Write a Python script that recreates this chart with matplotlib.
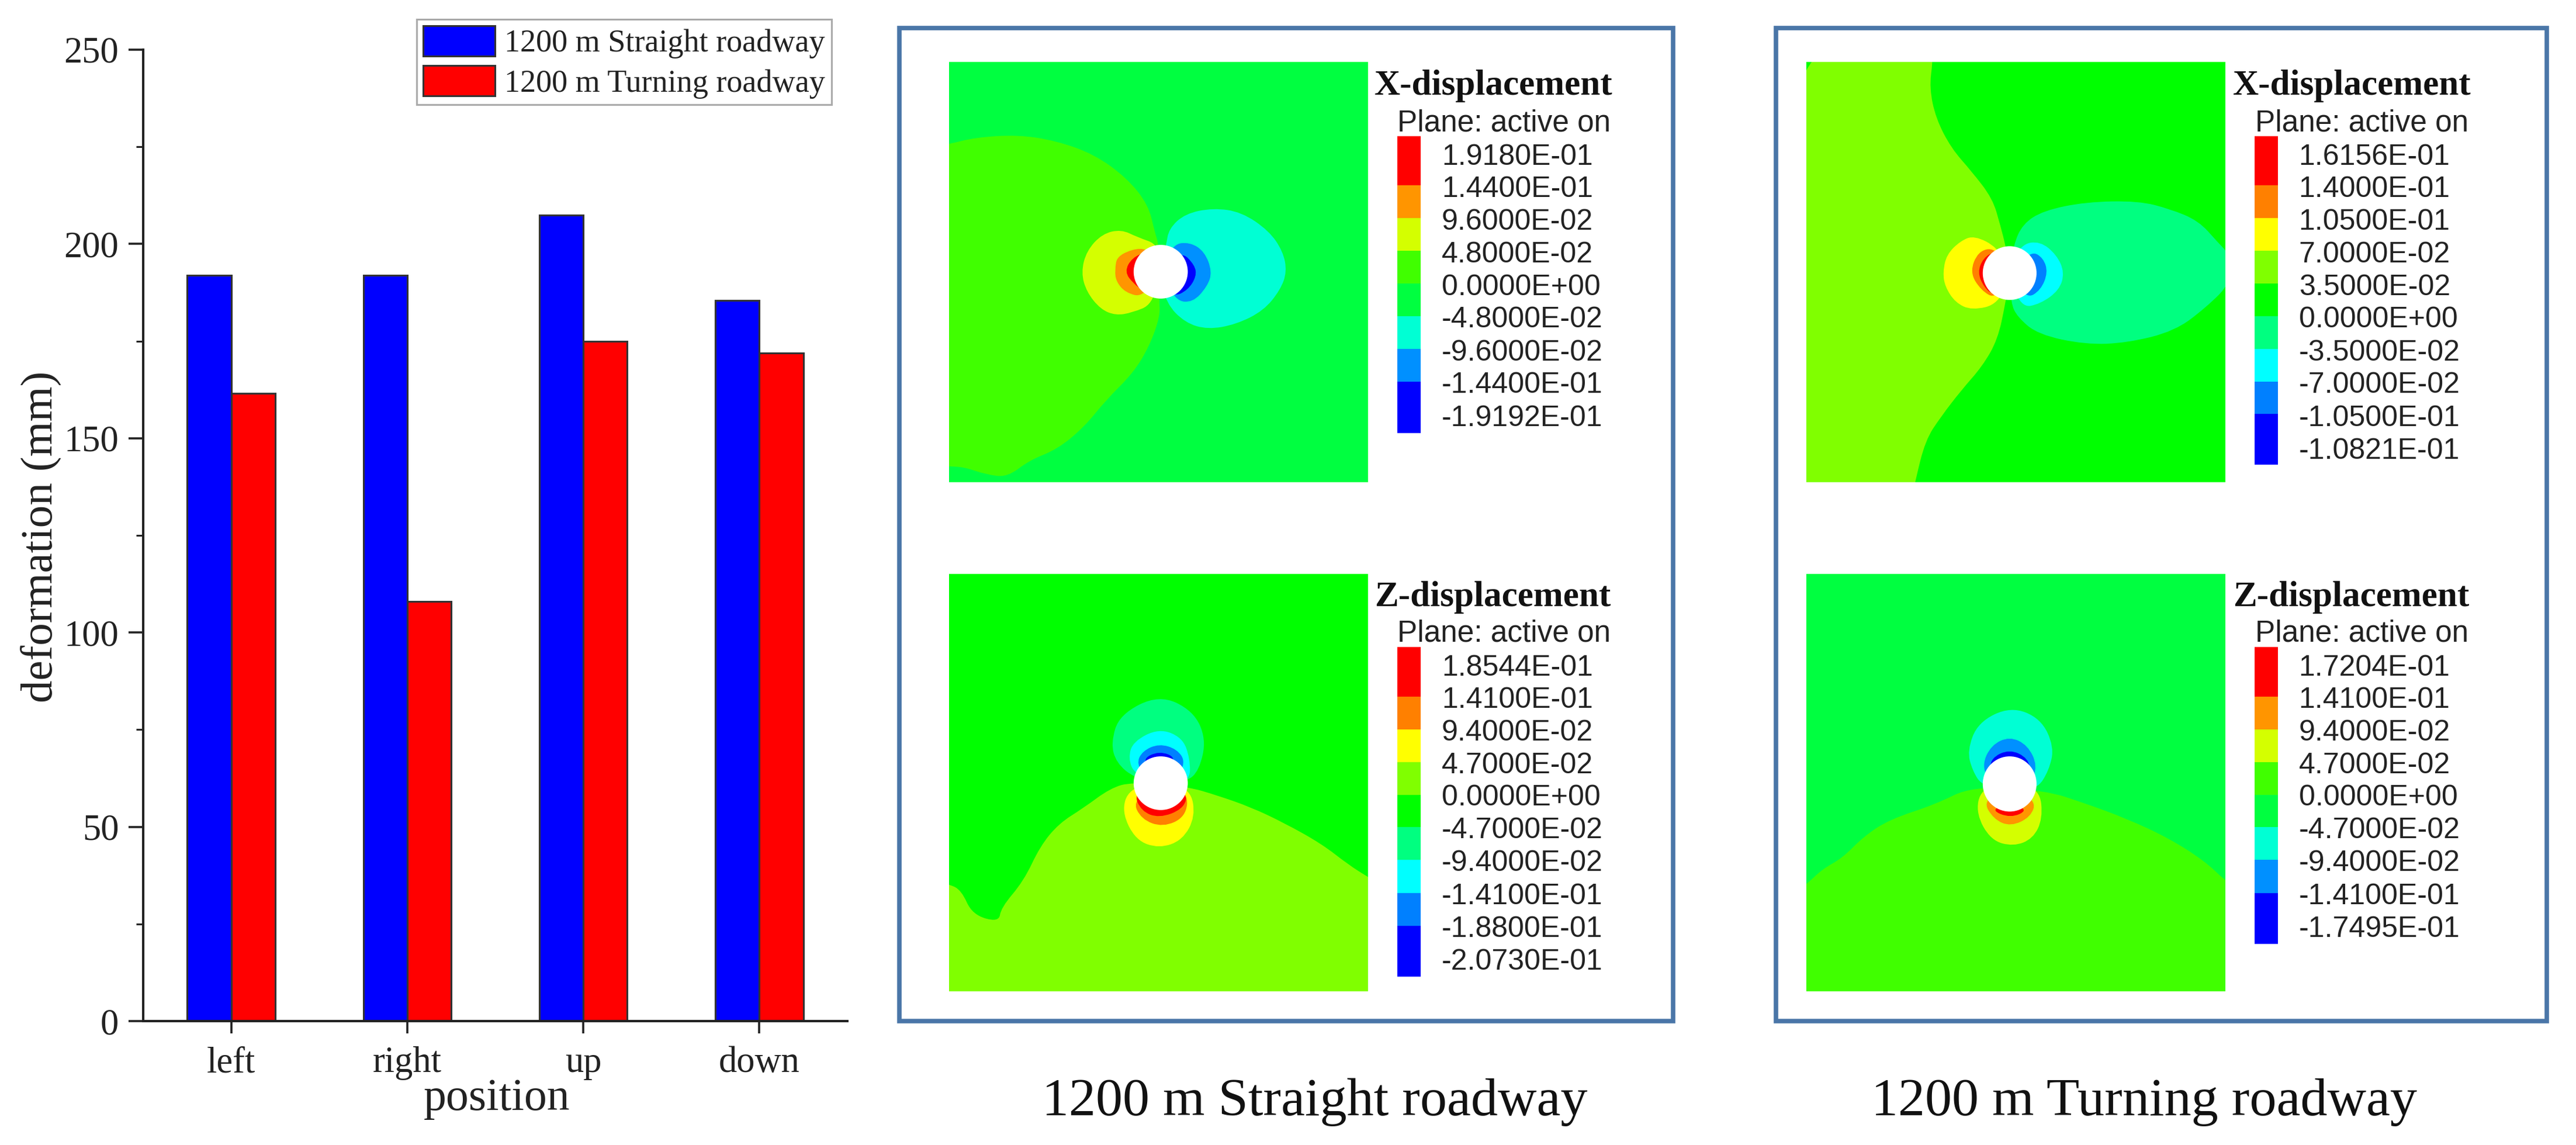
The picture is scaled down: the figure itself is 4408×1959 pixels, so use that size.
import matplotlib
matplotlib.use("Agg")
import matplotlib.pyplot as plt
from matplotlib.patches import PathPatch, Ellipse, Rectangle
from matplotlib.path import Path
from matplotlib.ticker import MultipleLocator

W, H = 4408, 1959
SERIF = "Liberation Serif"
SANS = "Liberation Sans"

# ---------- bar chart data ----------
positions = ["left", "right", "up", "down"]
straight = [192, 192, 207.5, 185.5]
turning = [161.5, 108, 175, 172]
series_names = ["1200 m Straight roadway", "1200 m Turning roadway"]
y_ticks = [0, 50, 100, 150, 200, 250]

# ---------- contour colours ----------
RED, OR1, OR2, YEL, YG = "#FF0000", "#FF9500", "#FF8000", "#FFFF00", "#D4FF00"
LIM1, LIM2, GRN, SPR1, SPR2 = "#40FF00", "#80FF00", "#00FF00", "#00FF40", "#00FF80"
CYA1, CYA2, AZ1, AZ2, BLU = "#00FFD4", "#00FFFF", "#0090FF", "#0080FF", "#0000FF"

# ---------- map A1: X-displacement, straight ----------
a1_limits = (102, 876, 1385, 133)
a1_hole = (493, 758, 100, 160)
a1_lime = [(40,395),(102,378),(150,358),(230,350),(300,368),(370,408),(430,478),(470,558),(482,640),(490,680),
           (490,840),(492,890),(472,980),(442,1060),(392,1140),(352,1220),(302,1287),(250,1320),
           (210,1370),(170,1362),(130,1340),(102,1338),(40,1330)]
a1_yg = [(346,760),(356,696),(385,645),(420,632),(450,655),(490,678),(490,758),(478,855),(440,880),
         (410,888),(382,870),(356,818)]
a1_orange = [(408,755),(413,706),(470,680),(490,758),(460,834),(428,820),(411,788)]
a1_red = [(426,758),(440,716),(470,696),(490,758),(462,816),(443,794)]
a1_cyan = [(503,680),(508,630),(538,585),(590,568),(642,580),(693,636),(719,698),(726,758),(714,812),
           (683,874),(632,915),(580,930),(538,910),(503,852),(490,758)]
a1_azure = [(515,676),(547,670),(574,698),(588,758),(579,802),(552,850),(520,844),(495,758)]
a1_blue = [(530,696),(556,738),(559,772),(543,813),(515,834),(493,758)]

# ---------- map A2: Z-displacement, straight ----------
a2_limits = (102, 876, 1168, 79)
a2_hole = (493, 625, 100, 140)
a2_lime = [(40,870),(102,888),(125,905),(145,968),(194,988),(198,950),(240,880),(270,790),(305,730),(350,690),
           (400,638),(440,622),(540,633),(600,658),(660,688),(720,728),(790,783),(840,838),(876,870),
           (940,925),(940,1250),(40,1250)]
a2_yellow = [(421,700),(434,640),(493,618),(548,640),(557,712),(533,774),(490,795),(447,774)]
a2_orange = [(441,670),(493,628),(544,650),(539,713),(497,740),(457,719)]
a2_red = [(443,650),(493,628),(544,650),(534,693),(490,716),(457,698)]
a2_spring = [(401,520),(417,446),(490,394),(553,436),(577,510),(564,592),(540,622),(493,622),(445,612),(411,572)]
a2_cyan = [(433,560),(442,516),(490,482),(533,506),(547,560),(547,622),(493,622),(445,602)]
a2_azure = [(448,575),(459,541),(490,522),(523,536),(539,570),(520,622),(470,622)]
a2_blue = [(456,565),(490,540),(524,560),(493,602)]

# ---------- map B1: X-displacement, turning ----------
b1_limits = (80, 890, 1385, 133)
b1_hole = (473, 762, 104, 160)
b1_lime = [(326,60),(324,133),(318,210),(330,300),(360,390),(400,460),(440,540),(455,620),(465,680),(475,758),
           (465,850),(450,960),(420,1040),(380,1110),(340,1190),(310,1260),(290,1385),(280,1460),(20,1460),(20,60)]
b1_spring = [(480,680),(498,616),(538,576),(620,550),(722,547),(783,571),(838,606),(874,668),(900,710),
             (900,792),(853,864),(792,935),(700,970),(620,975),(528,945),(488,893),(475,850),(475,758)]
b1_yellow = [(344,760),(351,707),(378,666),(405,650),(450,686),(475,758),(452,854),(400,873),(368,850),(348,802)]
b1_orange = [(396,760),(412,697),(445,686),(475,758),(447,839),(418,814)]
b1_red = [(411,760),(422,717),(445,696),(475,758),(442,829),(423,803)]
b1_cyan = [(495,676),(532,667),(564,708),(579,760),(569,813),(532,854),(495,865),(470,758)]
b1_azure = [(515,696),(538,717),(547,760),(533,813),(505,839),(475,758)]

# ---------- map B2: Z-displacement, turning ----------
b2_limits = (80, 890, 1168, 79)
b2_hole = (473, 627, 104, 144)
b2_lime = [(20,940),(80,890),(110,850),(150,820),(190,765),(240,720),(330,680),(400,633),(540,643),(620,678),
           (700,718),(780,768),(850,828),(890,880),(950,940),(950,1250),(20,1250)]
b2_yg = [(408,705),(417,640),(473,618),(531,640),(537,717),(518,770),(480,790),(437,774)]
b2_orange = [(421,670),(473,636),(524,670),(514,713),(475,738),(442,719)]
b2_red = [(436,695),(473,676),(509,695),(475,716)]
b2_cyan = [(391,540),(412,466),(475,425),(533,456),(559,530),(549,592),(525,642),(473,642),(420,632),(401,592)]
b2_azure = [(419,580),(437,526),(473,503),(508,526),(527,580),(512,632),(438,632)]
b2_blue = [(436,560),(473,536),(509,560),(514,602),(436,602)]

# ---------- colour scales ----------
a1_labels = ["1.9180E-01","1.4400E-01","9.6000E-02","4.8000E-02","0.0000E+00","-4.8000E-02","-9.6000E-02","-1.4400E-01","-1.9192E-01"]
a1_label_y = [412,508,605,703,800,897,995,1092,1190]
a1_edges = [355,500,598,695,793,890,988,1085,1238]
a1_colors = [RED,OR1,YG,LIM1,SPR1,CYA1,AZ1,BLU]

a2_labels = ["1.8544E-01","1.4100E-01","9.4000E-02","4.7000E-02","0.0000E+00","-4.7000E-02","-9.4000E-02","-1.4100E-01","-1.8800E-01","-2.0730E-01"]
a2_label_y = [320,405,490,575,660,745,830,917,1003,1088]
a2_edges = [270,400,485,570,655,740,825,912,997,1130]
a2_colors = [RED,OR2,YEL,LIM2,GRN,SPR2,CYA2,AZ2,BLU]

b1_labels = ["1.6156E-01","1.4000E-01","1.0500E-01","7.0000E-02","3.5000E-02","0.0000E+00","-3.5000E-02","-7.0000E-02","-1.0500E-01","-1.0821E-01"]
b1_label_y = [412,508,605,703,800,897,995,1092,1190,1288]
b1_edges = [355,500,598,695,793,890,988,1085,1182,1333]
b1_colors = [RED,OR2,YEL,LIM2,GRN,SPR2,CYA2,AZ2,BLU]

b2_labels = ["1.7204E-01","1.4100E-01","9.4000E-02","4.7000E-02","0.0000E+00","-4.7000E-02","-9.4000E-02","-1.4100E-01","-1.7495E-01"]
b2_label_y = [320,405,490,575,660,745,830,917,1003]
b2_edges = [270,400,485,570,655,740,825,912,1045]
b2_colors = [RED,OR1,YG,LIM1,SPR1,CYA1,AZ1,BLU]

fig = plt.figure(figsize=(W/100, H/100), dpi=100, facecolor="white")


def px_axes(x0, y0, x1, y1):
    return fig.add_axes([x0/W, 1-y1/H, (x1-x0)/W, (y1-y0)/H])


def rounded_outline(pts):
    """Closed quadratic Bezier path using the read outline points as control points."""
    n = len(pts)
    mid = lambda a, b: ((a[0]+b[0])/2, (a[1]+b[1])/2)
    verts = [mid(pts[-1], pts[0])]
    codes = [Path.MOVETO]
    for i in range(n):
        verts += [pts[i], mid(pts[i], pts[(i+1) % n])]
        codes += [Path.CURVE3, Path.CURVE3]
    return Path(verts, codes)


# ---------- bar chart ----------
ax = px_axes(245, 85, 1450, 1747)
xs = list(range(1, len(positions)+1))
BW = 0.25
EDGE = "#333333"
ax.bar([x-BW/2 for x in xs], straight, BW, color="#0000FF", edgecolor=EDGE, linewidth=2.2, label=series_names[0])
ax.bar([x+BW/2 for x in xs], turning, BW, color="#FF0000", edgecolor=EDGE, linewidth=2.2, label=series_names[1])
ax.set_xlim(0.5, 4.5)
ax.set_ylim(0, 250)
ax.set_yticks(y_ticks)
ax.yaxis.set_minor_locator(MultipleLocator(25))
ax.set_xticks(xs, positions)
for s in ("top", "right"):
    ax.spines[s].set_visible(False)
for s in ("left", "bottom"):
    ax.spines[s].set_linewidth(2.9)
    ax.spines[s].set_color("#222222")
ax.tick_params(axis="y", which="major", length=18, width=2.6, pad=12, color="#222222", labelcolor="#222222")
ax.tick_params(axis="y", which="minor", length=9, width=2.2, color="#222222")
ax.tick_params(axis="x", which="major", length=15, width=2.6, pad=16, color="#222222", labelcolor="#222222")
for t in ax.get_xticklabels() + ax.get_yticklabels():
    t.set_fontfamily(SERIF)
    t.set_fontsize(45)
ax.set_ylabel("deformation (mm)", fontfamily=SERIF, fontsize=55.5, color="#222222")
ax.yaxis.set_label_coords((106-245)/1205, (1747-918)/1662)
ax.set_xlabel("position", fontfamily=SERIF, fontsize=56, color="#222222")
ax.xaxis.set_label_coords((850-245)/1205, -(1845-1747)/1662)
leg = ax.legend(loc="upper left", bbox_to_anchor=(713/W, 1-33/H), bbox_transform=fig.transFigure,
                prop={"family": SERIF, "size": 39}, frameon=True, fancybox=False, framealpha=1,
                edgecolor="#AAAAAA", borderaxespad=0, borderpad=0.2, handlelength=2.27, handleheight=1.1,
                handletextpad=0.3, labelspacing=0.22)
leg.get_frame().set_linewidth(2.2)
for txt in leg.get_texts():
    txt.set_color("#222222")


# ---------- maps ----------
def draw_map(rect, limits, background, regions, hole, title, labels, label_y, edges, colors, bar_x, text_x, title_x, plane_x, title_y, plane_y):
    m = px_axes(*rect)
    m.set_xlim(limits[0], limits[1])
    m.set_ylim(limits[2], limits[3])
    m.axis("off")
    m.add_patch(Rectangle((limits[0], limits[3]), limits[1]-limits[0], limits[2]-limits[3], color=background, lw=0))
    for pts, col in regions:
        m.add_patch(PathPatch(rounded_outline(pts), facecolor=col, edgecolor="none"))
    m.add_patch(Ellipse((hole[0], hole[1]), hole[2], hole[3], facecolor="white", edgecolor="none"))
    for top, bot, col in zip(edges[:-1], edges[1:], colors):
        m.bar(bar_x[0], bot-top, bar_x[1]-bar_x[0], bottom=top, align="edge", color=col, linewidth=0, clip_on=False)
    nudge = (limits[2]-limits[3]) / (rect[3]-rect[1]) * 2.5
    for lab, y in zip(labels, label_y):
        m.text(text_x, y+nudge, lab, family=SANS, fontsize=36, va="center", ha="left", color="#222222", clip_on=False)
    m.text(title_x, title_y, title, family=SERIF, fontsize=44, weight="bold", va="center", ha="left", color="#111111")
    m.text(plane_x, plane_y, "Plane: active on", family=SANS, fontsize=37, va="center", ha="left", color="#222222")
    m.set_xlim(limits[0], limits[1])
    m.set_ylim(limits[2], limits[3])


draw_map((1624, 106, 2341, 825), a1_limits, SPR1,
         [(a1_lime, LIM1), (a1_yg, YG), (a1_orange, OR1), (a1_red, RED), (a1_cyan, CYA1), (a1_azure, AZ1), (a1_blue, BLU)],
         a1_hole, "X-displacement", a1_labels, a1_label_y, a1_edges, a1_colors,
         (930, 973), 1012, 888, 930, 205, 315)
draw_map((1624, 982, 2341, 1696), a2_limits, GRN,
         [(a2_lime, LIM2), (a2_yellow, YEL), (a2_orange, OR2), (a2_red, RED), (a2_spring, SPR2), (a2_cyan, CYA2), (a2_azure, AZ2), (a2_blue, BLU)],
         a2_hole, "Z-displacement", a2_labels, a2_label_y, a2_edges, a2_colors,
         (930, 973), 1012, 888, 930, 140, 235)
draw_map((3091, 106, 3808, 825), b1_limits, GRN,
         [(b1_lime, LIM2), (b1_spring, SPR2), (b1_yellow, YEL), (b1_orange, OR2), (b1_red, RED), (b1_cyan, CYA2), (b1_azure, AZ2)],
         b1_hole, "X-displacement", b1_labels, b1_label_y, b1_edges, b1_colors,
         (946, 992), 1032, 905, 948, 205, 315)
draw_map((3091, 982, 3808, 1696), b2_limits, SPR1,
         [(b2_lime, LIM1), (b2_yg, YG), (b2_orange, OR1), (b2_red, RED), (b2_cyan, CYA1), (b2_azure, AZ1), (b2_blue, BLU)],
         b2_hole, "Z-displacement", b2_labels, b2_label_y, b2_edges, b2_colors,
         (946, 992), 1032, 905, 948, 140, 235)

# ---------- frames and captions ----------
for x0, x1 in ((1539, 2863), (3039, 4358)):
    fig.add_artist(Rectangle((x0/W, 1-1747/H), (x1-x0)/W, (1747-48)/H, transform=fig.transFigure,
                             facecolor="none", edgecolor="#4A76A8", linewidth=5.5))
fig.text(2250/W, 1-1908/H, "1200 m Straight roadway", family=SERIF, fontsize=66.3, ha="center", va="baseline", color="#111111")
fig.text(3669/W, 1-1908/H, "1200 m Turning roadway", family=SERIF, fontsize=66.3, ha="center", va="baseline", color="#111111")

fig.savefig("out.png", dpi=100)
